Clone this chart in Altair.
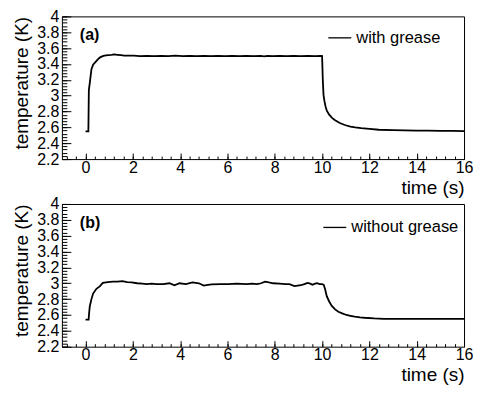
import altair as alt
import pandas as pd

# ---- data ----
t_a = [0.0, 0.12, 0.14, 0.18, 0.25, 0.32, 0.39, 0.5, 0.6, 0.7, 0.8, 0.95, 1.1, 1.21, 1.35, 1.5, 1.63,
       1.8, 2.04, 2.3, 2.6, 2.9, 3.2, 3.5, 3.8, 4.1, 4.4, 4.7, 5.0, 5.3, 5.6, 5.9, 6.2, 6.5, 6.8, 7.1,
       7.4, 7.55, 7.7, 7.9, 8.2, 8.5, 8.8, 9.1, 9.4, 9.7, 9.95, 10.0, 10.03, 10.06, 10.1, 10.15, 10.2,
       10.3, 10.42, 10.55, 10.75, 10.96, 11.2, 11.4, 11.65, 12.0, 12.4, 13.0, 13.5, 14.0, 14.5, 15.0,
       15.5, 16.0]
T_a = [2.55, 2.55, 3.07, 3.16, 3.335, 3.39, 3.415, 3.45, 3.48, 3.495, 3.505, 3.51, 3.515, 3.52, 3.515,
       3.51, 3.506, 3.505, 3.505, 3.5, 3.503, 3.499, 3.503, 3.5, 3.504, 3.498, 3.502, 3.5, 3.503, 3.499,
       3.502, 3.5, 3.503, 3.499, 3.502, 3.5, 3.503, 3.496, 3.503, 3.499, 3.502, 3.5, 3.503, 3.499, 3.502,
       3.5, 3.502, 3.5, 3.2, 3.01, 2.93, 2.86, 2.81, 2.76, 2.72, 2.69, 2.655, 2.63, 2.61, 2.6, 2.59,
       2.58, 2.57, 2.565, 2.563, 2.56, 2.558, 2.556, 2.555, 2.553]

t_b = [0.0, 0.13, 0.15, 0.18, 0.25, 0.32, 0.46, 0.6, 0.73, 0.94, 1.15, 1.35, 1.56, 1.76, 1.95, 2.18,
       2.4, 2.59, 2.8, 3.0, 3.28, 3.55, 3.76, 3.97, 4.24, 4.52, 4.79, 5.0, 5.17, 5.34, 5.7, 6.03, 6.4,
       6.8, 7.05, 7.25, 7.42, 7.59, 7.75, 7.93, 8.2, 8.45, 8.62, 8.83, 8.97, 9.1, 9.25, 9.38, 9.5, 9.59,
       9.7, 9.79, 9.9, 10.0, 10.07, 10.13, 10.2, 10.3, 10.41, 10.55, 10.69, 10.85, 11.03, 11.2, 11.38,
       11.6, 11.79, 12.2, 12.6, 13.0, 14.0, 15.0, 16.0]
T_b = [2.54, 2.54, 2.62, 2.71, 2.8, 2.87, 2.93, 2.96, 3.005, 3.015, 3.02, 3.02, 3.027, 3.015, 3.01,
       3.0, 2.995, 2.99, 2.995, 2.99, 2.99, 3.0, 2.975, 3.0, 2.99, 3.01, 3.0, 2.97, 2.98, 2.985, 2.99,
       2.99, 2.995, 2.99, 2.995, 2.99, 3.0, 3.02, 3.01, 3.0, 2.995, 2.99, 2.99, 2.965, 2.97, 2.975, 2.99,
       3.005, 2.995, 2.98, 2.995, 3.0, 2.99, 2.99, 2.98, 2.92, 2.835, 2.77, 2.715, 2.67, 2.64, 2.62,
       2.6, 2.59, 2.58, 2.57, 2.565, 2.557, 2.552, 2.55, 2.55, 2.55, 2.55]

series_names = ["with grease", "without grease"]
panel_tags = ["(a)", "(b)"]

x_major = [0, 2, 4, 6, 8, 10, 12, 14, 16]
x_minor = [round(-0.8 + 0.4 * i, 2) for i in range(43)]
y_major = [2.2, 2.4, 2.6, 2.8, 3.0, 3.2, 3.4, 3.6, 3.8, 4.0]
y_minor = [round(2.2 + 0.04 * i, 2) for i in range(46)]

W, H = 403, 143
FONT = "Liberation Sans"

xscale = alt.Scale(domain=[-1, 16], nice=False, zero=False)
yscale = alt.Scale(domain=[2.2, 4.0], nice=False, zero=False)


def panel(t, T, name, tag, leg_x, leg_y):
    df = pd.DataFrame({"t": t, "T": T, "series": name})
    base = alt.Chart(df)

    line = base.mark_line(strokeWidth=1.8, interpolate="linear").encode(
        x=alt.X("t:Q", scale=xscale, axis=alt.Axis(
            orient="bottom", values=x_major, format="d", ticks=False, tickSize=0, domain=False,
            grid=False, labelPadding=0, labelFlush=False, labelOverlap=False, labelFontSize=16,
            labelColor="black", labelFont=FONT, title="time (s)", titleFont=FONT, titleFontSize=19,
            titleFontWeight="normal", titleColor="black", titleAnchor="end", titleAlign="right",
            titleBaseline="alphabetic", titleX=W, titleY=34)),
        y=alt.Y("T:Q", scale=yscale, axis=alt.Axis(
            orient="left", values=y_major, format="~g", ticks=False, tickSize=0, domain=False,
            grid=False, labelPadding=3, labelFlush=False, labelOverlap=False, labelFontSize=16,
            labelColor="black", labelFont=FONT, title="temperature (K)", titleFont=FONT,
            titleFontSize=19, titleFontWeight="normal", titleColor="black", titleAnchor="end",
            titleAngle=270, titleAlign="right", titleBaseline="alphabetic", titleX=-34, titleY=0)),
        color=alt.Color("series:N", scale=alt.Scale(range=["black"]), legend=alt.Legend(
            orient="none", legendX=leg_x, legendY=leg_y, title=None, symbolType="stroke",
            symbolSize=529, symbolStrokeWidth=1.3, labelFontSize=16.5, labelFont=FONT,
            labelColor="black", labelOffset=4, padding=0)),
    )

    major = base.mark_line(opacity=0).encode(
        x=alt.X("t:Q", scale=xscale, axis=alt.Axis(
            orient="top", offset=-H, values=x_major, labels=False, domain=False, grid=False,
            tickSize=6, tickColor="black", tickWidth=1, title=None)),
        y=alt.Y("T:Q", scale=yscale, axis=alt.Axis(
            orient="right", offset=-W, values=y_major, labels=False, domain=False, grid=False,
            tickSize=9, tickColor="black", tickWidth=1, title=None)),
    )
    minor = base.mark_line(opacity=0).encode(
        x=alt.X("t:Q", scale=xscale, axis=alt.Axis(
            orient="top", offset=-H, values=x_minor, labels=False, domain=False, grid=False,
            tickSize=3, tickColor="black", tickWidth=1, title=None)),
        y=alt.Y("T:Q", scale=yscale, axis=alt.Axis(
            orient="right", offset=-W, values=y_minor, labels=False, domain=False, grid=False,
            tickSize=5, tickColor="black", tickWidth=1, title=None)),
    )
    label = alt.Chart(pd.DataFrame({"lab": [tag]})).mark_text(
        align="left", baseline="middle", fontSize=16, fontWeight="bold", font=FONT, color="black"
    ).encode(text="lab:N", x=alt.value(18), y=alt.value(19))

    return alt.layer(line, major, minor, label).resolve_axis(
        x="independent", y="independent").properties(width=W, height=H)


top = panel(t_a, T_a, series_names[0], panel_tags[0], 266, 9)
bottom = panel(t_b, T_b, series_names[1], panel_tags[1], 261, 11)

chart = alt.vconcat(top, bottom, spacing=45, bounds="flush").resolve_scale(
    color="independent").configure_view(stroke="black", strokeWidth=1).properties(
    padding={"left": 4, "top": -1, "right": 0, "bottom": 0}, background="white")

chart.save("out.html", embed_options={"renderer": "svg", "actions": False})
